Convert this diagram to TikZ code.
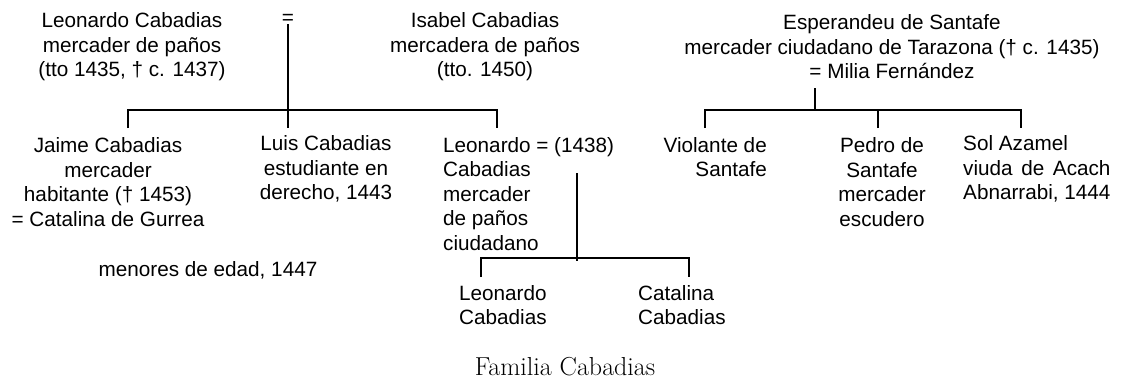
\documentclass[tikz,border=0pt]{standalone}
\usepackage{fontspec}
\usepackage{calc}
\newfontfamily\arialf{Liberation Sans}
\begin{document}
\begin{tikzpicture}[x=1pt,y=-1pt,
  txt/.style={font=\arialf\fontsize{20.7}{24.5}\selectfont, inner sep=0pt},
  ttl/.style={font=\rmfamily\fontsize{26}{30}\selectfont, inner sep=0pt},
  ln/.style={line width=1.6pt}]
\useasboundingbox[fill=white] (0,0) rectangle (1128,383);
% top generation
\node[txt,align=center] (lc) at (132,47) {Leonardo Cabadias\\mercader de paños\\(tto 1435, † c. 1437)};
\node[txt] (eq) at (288,19) {=};
\node[txt,align=center] (ic) at (485,47) {Isabel Cabadias\\mercadera de paños\\(tto. 1450)};
\node[txt,align=center] (es) at (892,47) {Esperandeu de Santafe\\mercader ciudadano de Tarazona († c. 1435)\\= Milia Fernández};
% children
\node[txt,align=center] (jaime) at (108,182) {Jaime Cabadias\\mercader\\habitante († 1453)\\= Catalina de Gurrea};
\node[txt,align=center] (luis) at (326,169) {Luis Cabadias\\estudiante en\\derecho, 1443};
\node[txt,align=left,anchor=west] (leo) at (443,194) {Leonardo = (1438)\\Cabadias\\mercader\\de paños\\ciudadano};
\node[txt,align=right,anchor=east] (vio) at (767,157) {Violante de\\Santafe};
\node[txt,align=center] (ped) at (882,182) {Pedro de\\Santafe\\mercader\\escudero};
\node[txt,align=left,anchor=west] (sol) at (963,169) {Sol Azamel\\\makebox[\widthof{Abnarrabi, 1444}][s]{viuda de Acach}\\Abnarrabi, 1444};
\node[txt] (men) at (208,270) {menores de edad, 1447};
% grandchildren
\node[txt,align=left,anchor=west] (gl) at (459,305) {Leonardo\\Cabadias};
\node[txt,align=left,anchor=west] (gc) at (638,305) {Catalina\\Cabadias};
% title
\node[ttl] (title) at (565,367) {Familia Cabadias};
% Cabadias family lines
\coordinate (dJ) at (128,128);
\coordinate (dL) at (288,128);
\coordinate (dLe) at (497,128);
\coordinate (barC) at (288,110);
\draw[ln] (eq.south) -- (dL);
\draw[ln] (dJ) -- (dJ |- barC) -- (dLe |- barC) -- (dLe);
% Santafe family lines
\coordinate (s0) at (815,88);
\coordinate (barS) at (815,110);
\coordinate (dV) at (705,128);
\coordinate (dP) at (878,128);
\coordinate (dS) at (1021,128);
\draw[ln] (s0) -- (barS);
\draw[ln] (dV) -- (dV |- barS) -- (dS |- barS) -- (dS);
\draw[ln] (dP) -- (dP |- barS);
% Leonardo's children
\coordinate (m0) at (577,173);
\coordinate (m1) at (577,261);
\coordinate (barM) at (577,258);
\coordinate (dGL) at (481,277);
\coordinate (dGC) at (689,277);
\draw[ln] (m0) -- (m1);
\draw[ln] (dGL) -- (dGL |- barM) -- (dGC |- barM) -- (dGC);
\end{tikzpicture}
\end{document}
